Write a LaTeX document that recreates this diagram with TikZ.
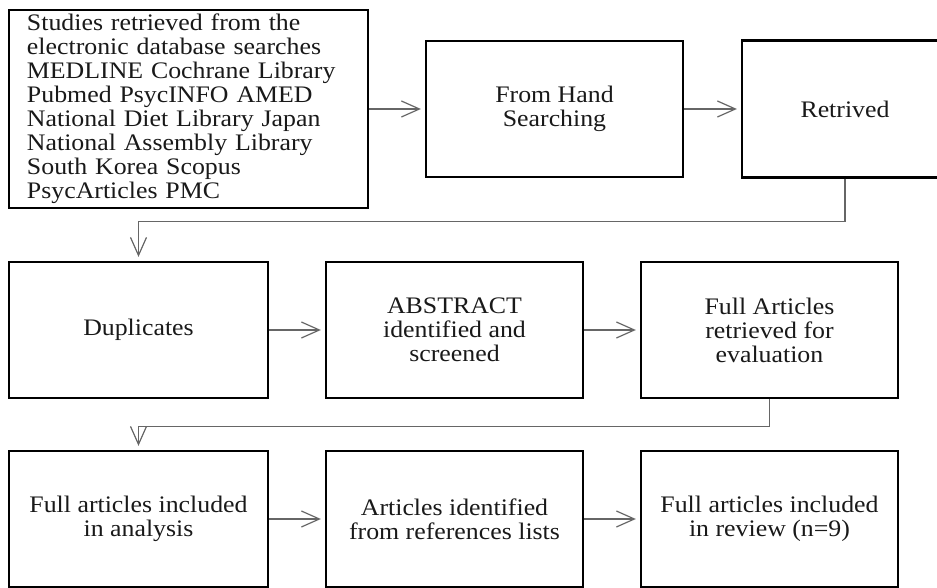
\documentclass[tikz,border=0pt]{standalone}
\usepackage{fontspec}
\setmainfont{Liberation Serif}[FakeStretch=1.09]
\usetikzlibrary{arrows.meta,positioning,calc}

\begin{document}
\begin{tikzpicture}[x=1pt,y=1pt]
	\tikzset{
		box/.style={draw, line width=2.3pt, minimum width=257pt, minimum height=136pt,
			inner sep=0pt, align=center, text=black!90,
			font=\fontsize{23.7}{24}\selectfont},
		conn/.style={draw=black!60, line width=1.2pt,
			-{Straight Barb[length=18pt,width=16pt]}, shorten >=4pt}
	}
	\useasboundingbox (0,0) rectangle (937,588);
	\clip (0,0) rectangle (937,588);

	\node[box, minimum width=359pt, minimum height=198pt, text width=323pt, align=left] (search) at (188.5,479)
		{Studies retrieved from the\\ electronic database searches\\ MEDLINE Cochrane Library\\ Pubmed PsycINFO AMED\\ National Diet Library Japan\\ National Assembly Library\\ South Korea Scopus\\ PsycArticles PMC};
	\node[box] (hand) at (554.5,479) {From Hand\\ Searching};
	\node[box, minimum width=206pt, minimum height=137pt] (retrived) at (845,479) {Retrived};

	\node[box, minimum width=259pt] (dupl) at (138.5,258) {Duplicates};
	\node[box] (abstract) at (454.5,258) {ABSTRACT\\ identified and\\ screened};
	\node[box] (fullret) at (769.5,258) {Full Articles\\ retrieved for\\ evaluation};

	\node[box, minimum width=259pt] (analysis) at (138.5,69) {Full articles included\\ in analysis};
	\node[box] (reflist) at (454.5,69) {Articles identified\\ from references lists};
	\node[box] (review) at (769.5,69) {Full articles included\\ in review (n=9)};

	\draw[conn] (search) -- (hand);
	\draw[conn] (hand) -- (retrived);
	\draw[conn] (retrived.south) -- ++(0,-43) -| (dupl.north);
	\draw[conn] (dupl) -- (abstract);
	\draw[conn] (abstract) -- (fullret);
	\draw[conn] (fullret.south) -- ++(0,-27) -| (analysis.north);
	\draw[conn] (analysis) -- (reflist);
	\draw[conn] (reflist) -- (review);
\end{tikzpicture}
\end{document}
